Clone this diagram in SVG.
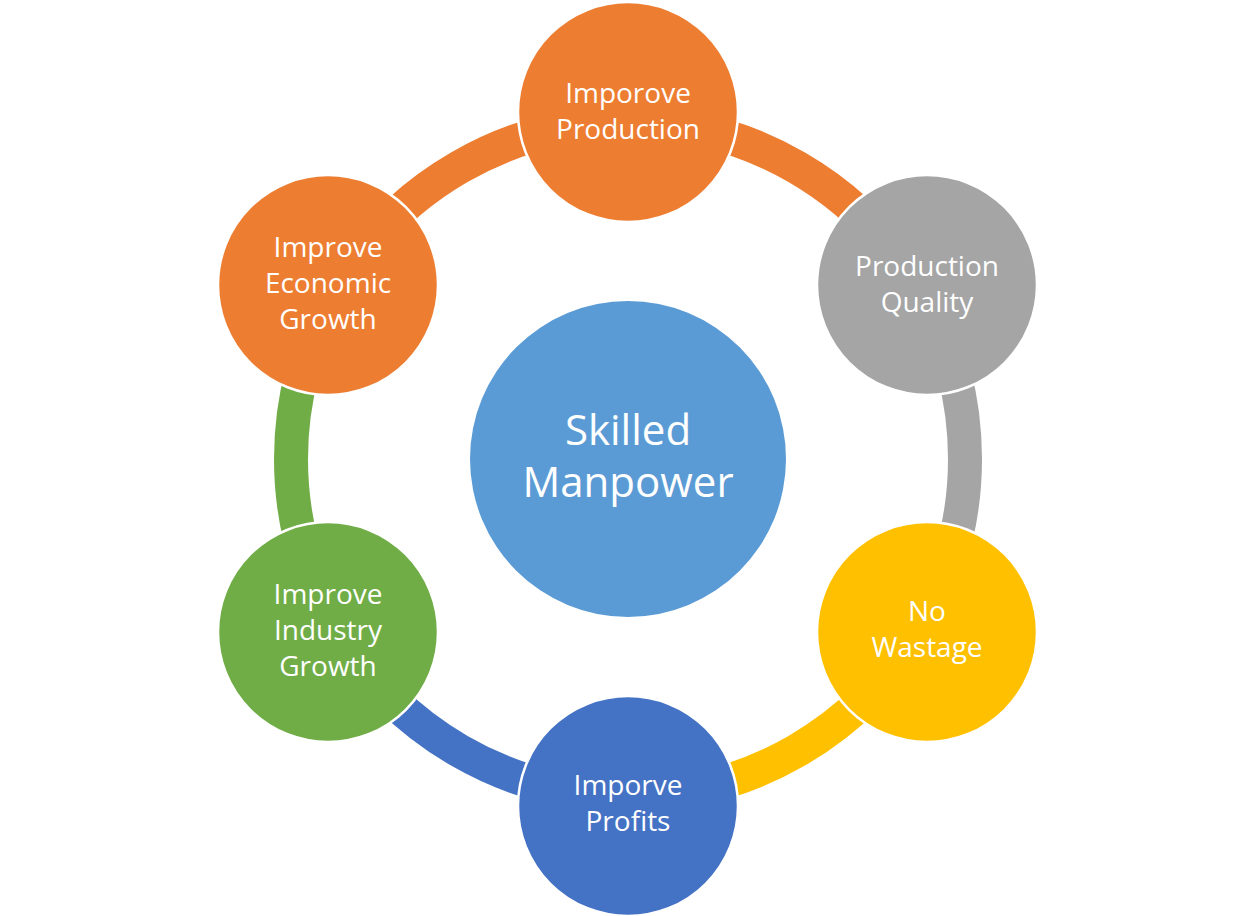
<svg xmlns="http://www.w3.org/2000/svg" width="1256" height="916" viewBox="0 0 1256 916">
<style>
.arc{fill:none;stroke-width:34;stroke-linecap:butt}
.node{stroke:#fff;stroke-width:2.5}
.t{font-family:"Open Sans","Liberation Sans",sans-serif;font-size:28px;fill:#fff;text-anchor:middle}
.c{font-family:"Open Sans","Liberation Sans",sans-serif;font-size:42px;fill:#fff;text-anchor:middle}
</style>
<rect width="1256" height="916" fill="#fff"/>
<g id="connectors">
<path class="arc" stroke="#ED7D31" d="M628,122 A337,337 0 0 1 919.85,290.5"/>
<path class="arc" stroke="#A5A5A5" d="M919.85,290.5 A337,337 0 0 1 919.85,627.5"/>
<path class="arc" stroke="#FFC000" d="M919.85,627.5 A337,337 0 0 1 628,796"/>
<path class="arc" stroke="#4472C4" d="M628,796 A337,337 0 0 1 336.15,627.5"/>
<path class="arc" stroke="#70AD47" d="M336.15,627.5 A337,337 0 0 1 336.15,290.5"/>
<path class="arc" stroke="#ED7D31" d="M336.15,290.5 A337,337 0 0 1 628,122"/>
</g>
<g id="center">
<circle cx="628" cy="459" r="158" fill="#5B9BD5"/>
<text class="c" x="628" y="445">Skilled</text>
<text class="c" x="628" y="497">Manpower</text>
</g>
<g id="n-top">
<circle class="node" cx="628" cy="112" r="110" fill="#ED7D31"/>
<text class="t" x="628" y="103">Imporove</text>
<text class="t" x="628" y="139">Production</text>
</g>
<g id="n-ur">
<circle class="node" cx="927" cy="285" r="110" fill="#A5A5A5"/>
<text class="t" x="927" y="276">Production</text>
<text class="t" x="927" y="312">Quality</text>
</g>
<g id="n-lr">
<circle class="node" cx="927" cy="632" r="110" fill="#FFC000"/>
<text class="t" x="927" y="621">No</text>
<text class="t" x="927" y="657">Wastage</text>
</g>
<g id="n-bottom">
<circle class="node" cx="628" cy="806" r="110" fill="#4472C4"/>
<text class="t" x="628" y="795">Imporve</text>
<text class="t" x="628" y="831">Profits</text>
</g>
<g id="n-ll">
<circle class="node" cx="328" cy="632" r="110" fill="#70AD47"/>
<text class="t" x="328" y="604">Improve</text>
<text class="t" x="328" y="640">Industry</text>
<text class="t" x="328" y="676">Growth</text>
</g>
<g id="n-ul">
<circle class="node" cx="328" cy="285" r="110" fill="#ED7D31"/>
<text class="t" x="328" y="257">Improve</text>
<text class="t" x="328" y="293">Economic</text>
<text class="t" x="328" y="329">Growth</text>
</g>
</svg>
